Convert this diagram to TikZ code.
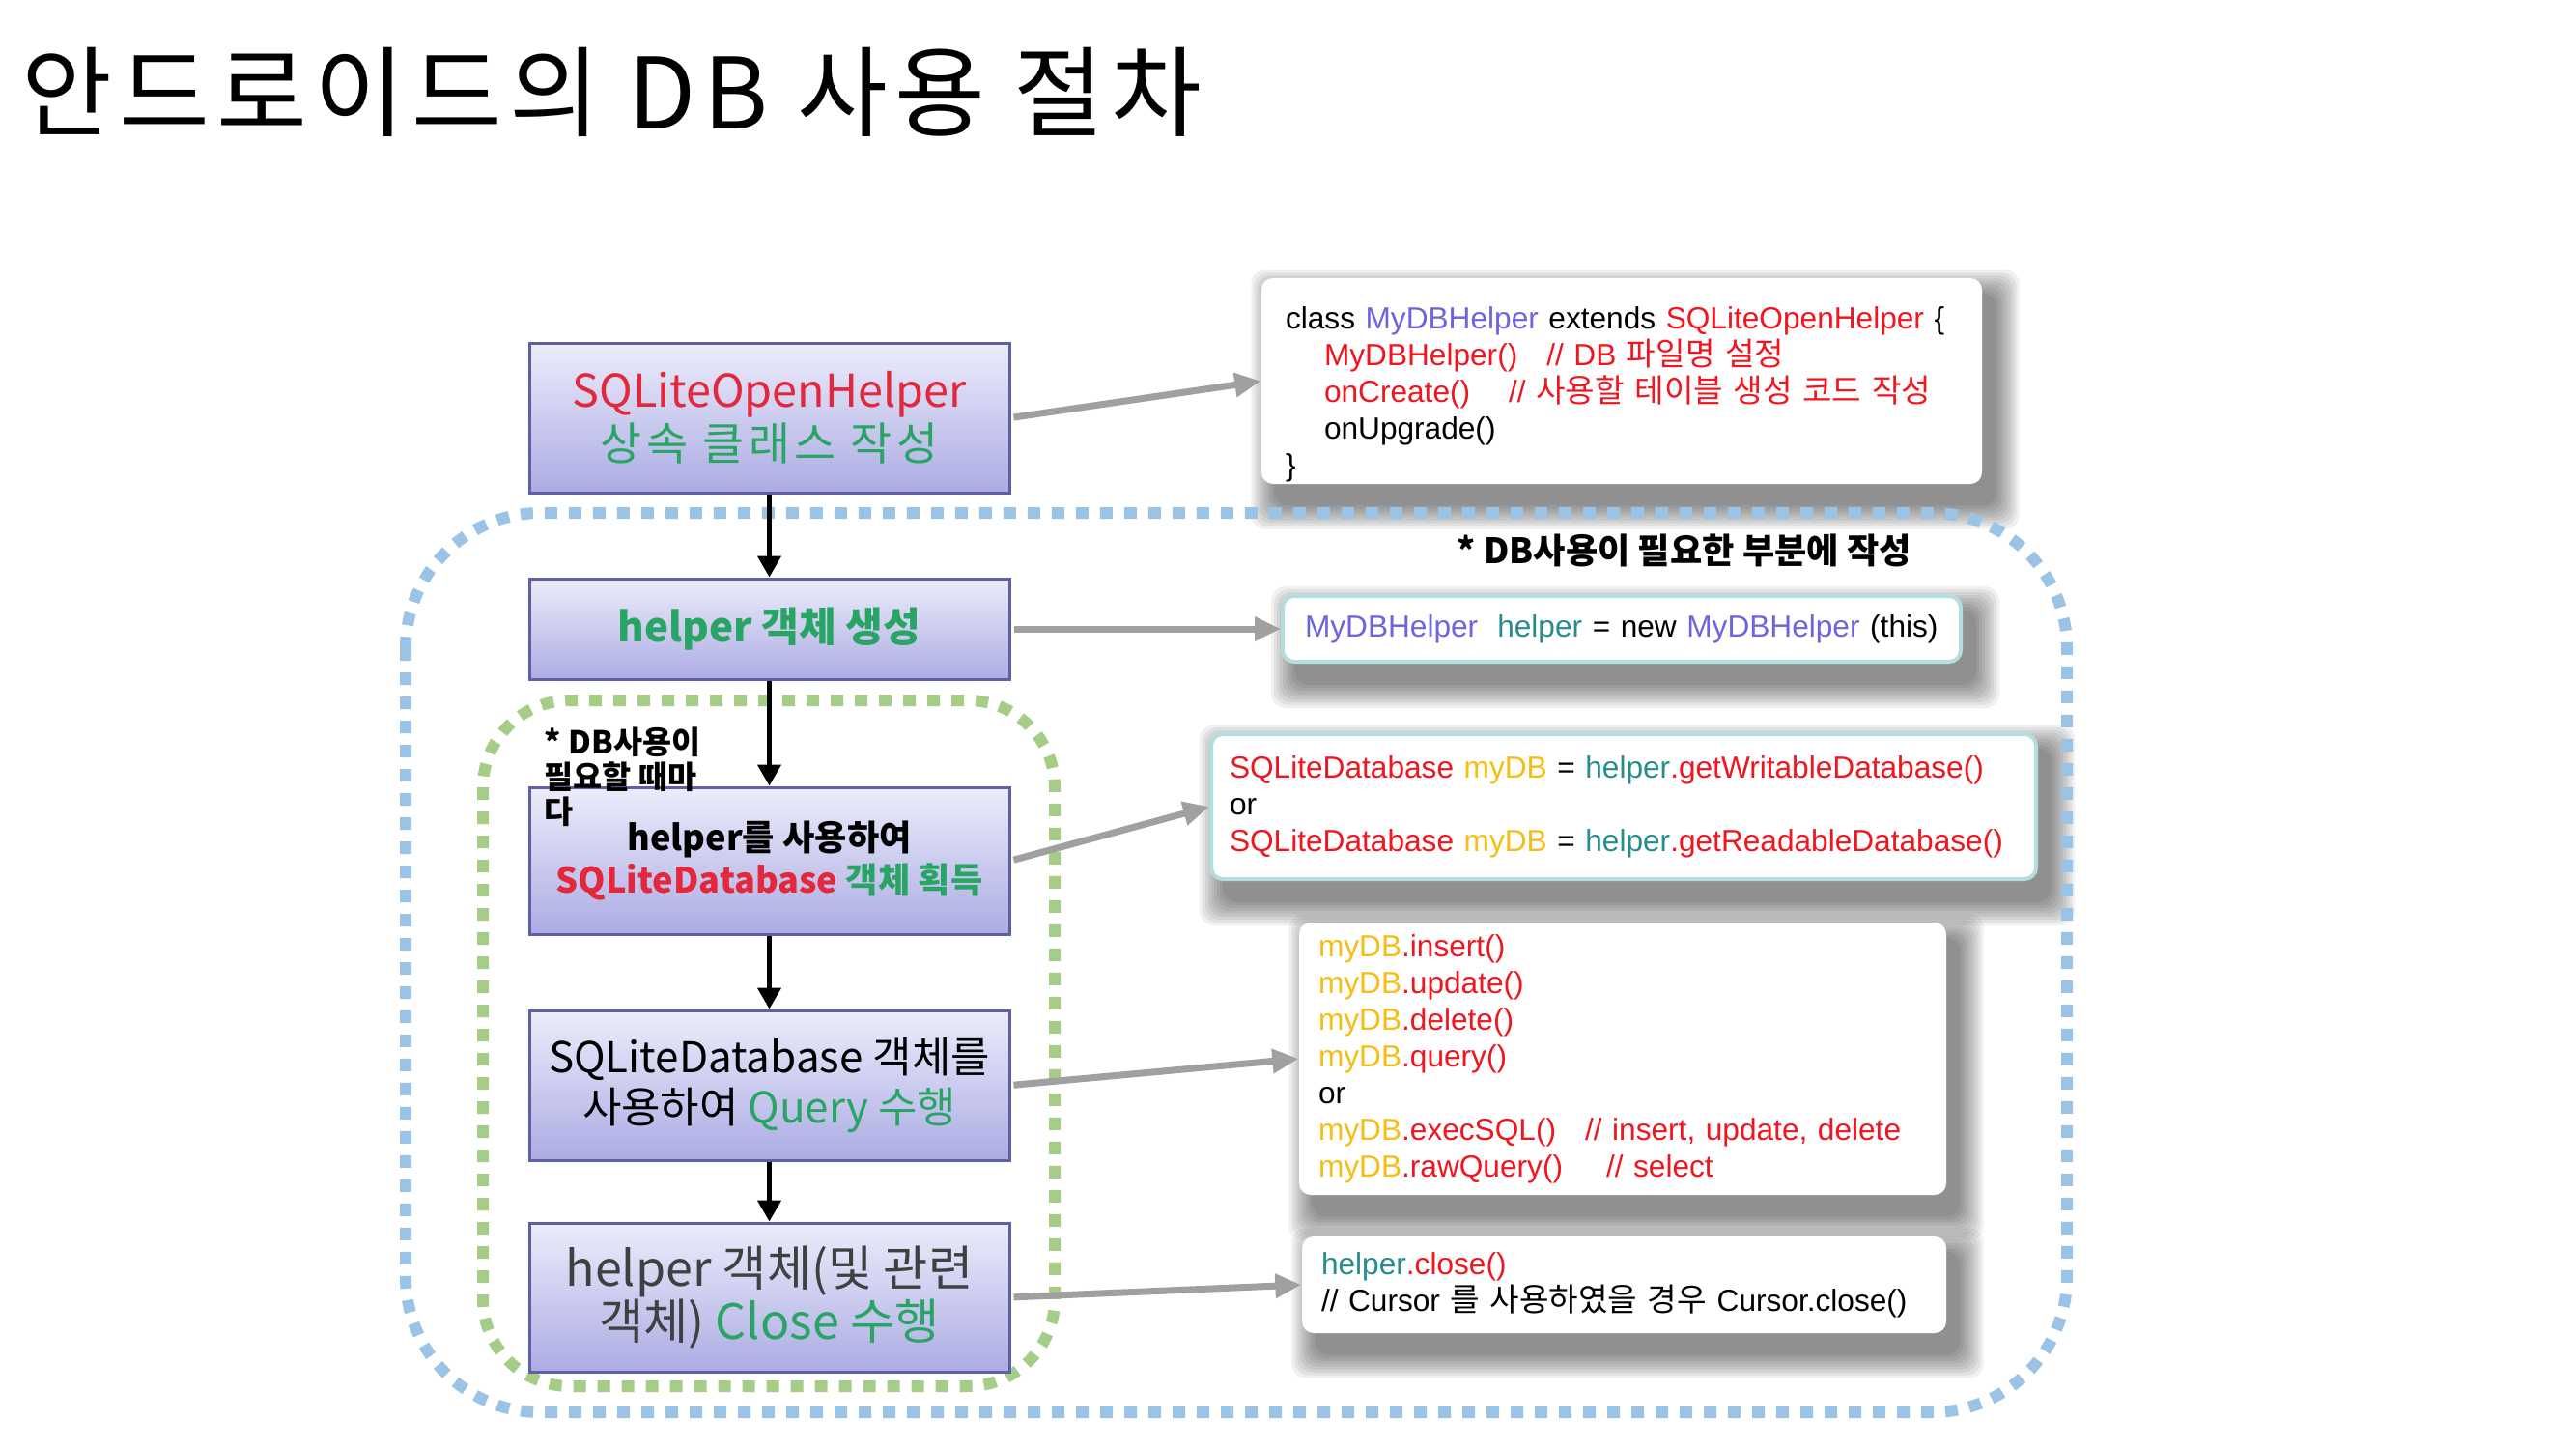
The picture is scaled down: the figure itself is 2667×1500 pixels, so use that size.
\documentclass[tikz,border=0pt]{standalone}
\usepackage{fontspec}
\setmainfont{Noto Sans CJK KR}
\newfontfamily\codefont{Liberation Sans}
\newfontfamily\ko{Noto Sans CJK KR}[Scale=1.05]
\usetikzlibrary{arrows.meta}

\definecolor{boxtop}{RGB}{236,236,251}
\definecolor{boxbot}{RGB}{172,172,228}
\definecolor{boxedge}{RGB}{95,95,165}
\definecolor{boxred}{RGB}{228,40,60}
\definecolor{boxgreen}{RGB}{40,165,100}
\definecolor{codered}{RGB}{240,22,32}
\definecolor{codeyellow}{RGB}{245,190,20}
\definecolor{codeteal}{RGB}{40,140,140}
\definecolor{codeblue}{RGB}{110,100,220}
\definecolor{codeedge}{RGB}{180,222,222}
\definecolor{dbzone}{RGB}{155,195,230}
\definecolor{usezone}{RGB}{165,205,135}
\definecolor{linkgray}{RGB}{160,160,160}

\newcommand\cred[1]{\textcolor{codered}{#1}}
\newcommand\cyel[1]{\textcolor{codeyellow}{#1}}
\newcommand\cteal[1]{\textcolor{codeteal}{#1}}
\newcommand\cblue[1]{\textcolor{codeblue}{#1}}

\pgfdeclarelayer{background}
\pgfsetlayers{background,main}

\tikzset{
  stepbox/.style={draw=boxedge, line width=0.3mm, top color=boxtop, bottom color=boxbot,
    minimum width=49.7mm, align=center, inner sep=0pt},
  codebox/.style={fill=white, rounded corners=1.2mm, align=left, inner ysep=0pt,
    font=\codefont\fontsize{9}{10.8}\selectfont},
  flow/.style={line width=0.45mm, -{Triangle[length=2.2mm,width=2.4mm]}},
  link/.style={linkgray, line width=0.7mm, shorten <=0.3mm, -{Triangle[length=2.7mm,width=2.4mm]}},
  zone/.style={line width=1.2mm, dash pattern=on 1.3mm off 1.2mm, rounded corners=#1},
}

\begin{document}
\begin{tikzpicture}[x=0.1mm, y=-0.1mm]
\begin{pgfonlayer}{background}
\fill[white] (0,0) rectangle (2667,1500);
\end{pgfonlayer}
\useasboundingbox (0,0) rectangle (2667,1500);

\node[anchor=west, inner sep=0pt, font=\fontsize{29}{32}\selectfont\addfontfeature{LetterSpace=7}] (title) at (22,95)
  {안드로이드의 DB 사용 절차};

% dotted zones
\draw[zone=14mm, dbzone] (420,531) rectangle (2140,1462);
\draw[zone=9mm, usezone] (500,725) rectangle (1092,1435);
\node[anchor=west, inner sep=0pt, font=\bfseries\fontsize{10.3}{12}\selectfont] (dbnote) at (1508,570)
  {* DB사용이 필요한 부분에 작성};

% steps
\node[stepbox, minimum height=15.5mm, font=\fontsize{13.3}{15.6}\selectfont] (b1) at (796.5,432.5)
  {\textcolor{boxred}{SQLiteOpenHelper}\\{\addfontfeature{LetterSpace=10}\textcolor{boxgreen}{상속 클래스 작성}}};
\node[stepbox, minimum height=10.4mm, font=\bfseries\fontsize{12}{14}\selectfont, text=boxgreen] (b2) at (796.5,651)
  {helper 객체 생성};
\node[stepbox, minimum height=15.2mm, font=\bfseries\fontsize{10.3}{12.5}\selectfont] (b3) at (796.5,891)
  {helper를 사용하여\\\textcolor{boxred}{SQLiteDatabase} \textcolor{boxgreen}{객체 획득}};
\node[stepbox, minimum height=15.5mm, font=\fontsize{12.5}{15}\selectfont] (b4) at (796.5,1123.5)
  {SQLiteDatabase 객체를\\사용하여 \textcolor{boxgreen}{Query 수행}};
\node[stepbox, minimum height=15.4mm, font=\fontsize{14.3}{15.8}\selectfont, text=black!75] (b5) at (796.5,1343)
  {helper 객체(및 관련\\객체) \textcolor{boxgreen}{Close 수행}};
\node[anchor=north west, inner sep=0pt, align=left, font=\bfseries\fontsize{9.3}{10.2}\selectfont] (usenote) at (563,752)
  {* DB사용이\\필요할 때마\\다};

\draw[flow] (b1) -- (b2);
\draw[flow] (b2) -- (b3);
\draw[flow] (b3) -- (b4);
\draw[flow] (b4) -- (b5);

% code
\node[codebox, inner xsep=2.5mm, text width=69.6mm, minimum height=21.3mm] (c1) at (1679,394.5)
  {\rule{0pt}{5mm}class \cblue{MyDBHelper} extends \cred{SQLiteOpenHelper} \{\\
   \hspace*{4mm}\cred{MyDBHelper()\hspace{3mm}// DB {\ko 파일명 설정}}\\
   \hspace*{4mm}\cred{onCreate()\hspace{4mm}// {\ko 사용할 테이블 생성 코드 작성}}\\
   \hspace*{4mm}onUpgrade()\\
   \}};
\node[codebox, draw=codeedge, line width=0.4mm, inner xsep=2.3mm, text width=65.6mm, minimum height=6.8mm] (c2) at (1679,651)
  {\cblue{MyDBHelper}\hspace{2mm}\cteal{helper} = new \cblue{MyDBHelper} (this)};
\node[codebox, draw=codeedge, line width=0.4mm, inner xsep=1.9mm, text width=81.6mm, minimum height=15mm] (c3) at (1681,835)
  {\cred{SQLiteDatabase} \cyel{myDB} = \cteal{helper}\cred{.getWritableDatabase()}\\
   or\\
   \cred{SQLiteDatabase} \cyel{myDB} = \cteal{helper}\cred{.getReadableDatabase()}};
\node[codebox, inner xsep=2mm, text width=63mm, minimum height=28.2mm] (c4) at (1680,1096)
  {\cyel{myDB}\cred{.insert()}\\
   \cyel{myDB}\cred{.update()}\\
   \cyel{myDB}\cred{.delete()}\\
   \cyel{myDB}\cred{.query()}\\
   or\\
   \cyel{myDB}\cred{.execSQL()\hspace{3mm}// insert, update, delete}\\
   \cyel{myDB}\cred{.rawQuery()\hspace{4.5mm}// select}};
\node[codebox, inner xsep=2mm, text width=62.7mm, minimum height=10mm] (c5) at (1681.5,1330)
  {\cteal{helper}\cred{.close()}\\
   // Cursor {\ko 를 사용하였을 경우} Cursor.close()};

\begin{pgfonlayer}{background}
\foreach \c in {c1,c2,c3,c4,c5}
  \foreach \d in {0,3,...,24}
    \fill[black, opacity=0.06, rounded corners=1.5mm]
      ([shift={(14-\d,16-\d)}]\c.north west) rectangle ([shift={(14+\d,22+\d)}]\c.south east);
\end{pgfonlayer}

\draw[link] (b1.east) -- (c1.west);
\draw[link] (b2.east) -- (c2.west);
\draw[link] (b3.east) -- (c3.west);
\draw[link] (b4.east) -- (c4.west);
\draw[link] (b5.east) -- (c5.west);
\end{tikzpicture}
\end{document}
